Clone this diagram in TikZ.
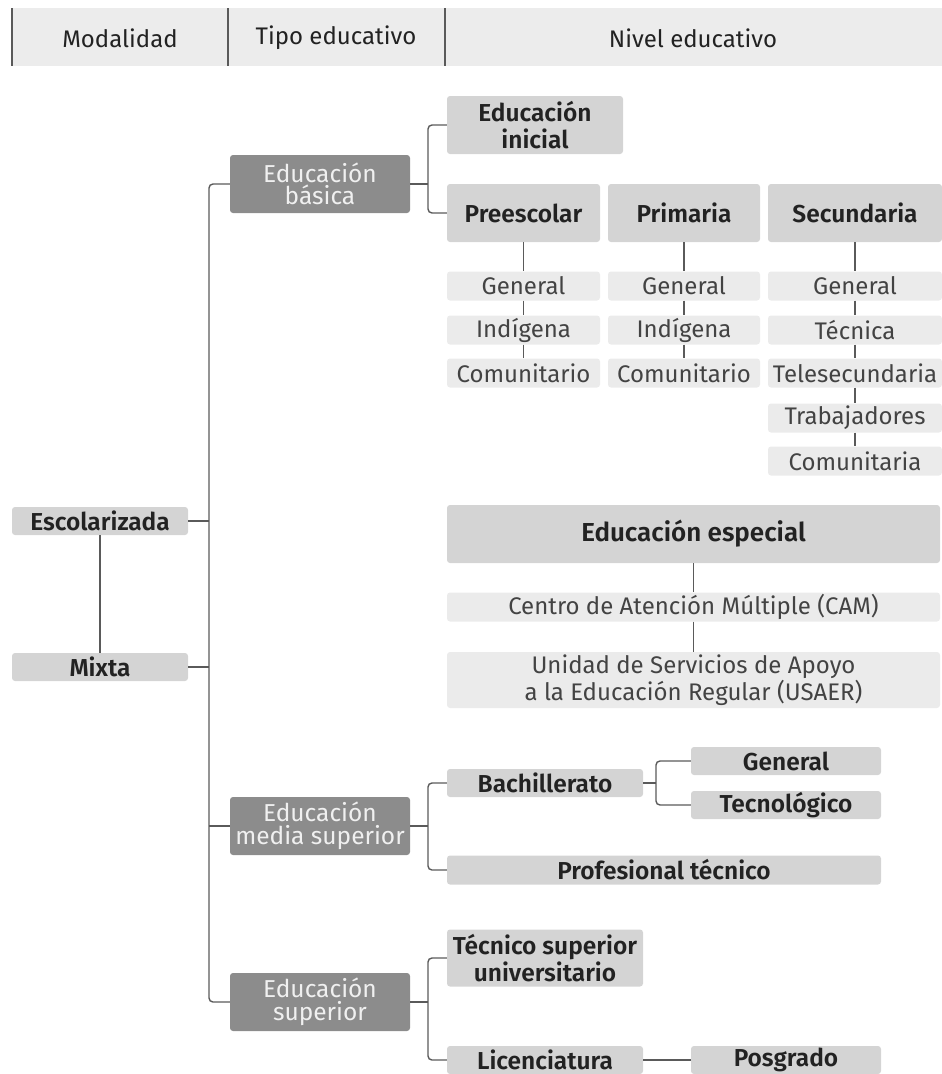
\documentclass[tikz,border=0pt]{standalone}
\usepackage{fontspec}
\setmainfont{Fira Sans}[BoldFont={Fira Sans SemiBold}]
\usepackage{tikz}
\usetikzlibrary{positioning}
\definecolor{headgris}{HTML}{ECECEC}
\definecolor{tipogris}{HTML}{8C8C8C}
\definecolor{nivelgris}{HTML}{D4D4D4}
\definecolor{subgris}{HTML}{EBEBEB}
\definecolor{lineagris}{HTML}{5A5A5A}
\definecolor{textogris}{HTML}{222222}
\tikzstyle{caja} = [rounded corners=3pt, inner sep=0pt, align=center,
    text=textogris, font=\fontsize{24}{27}\selectfont]
\tikzstyle{tipo} = [caja, fill=tipogris, text=white!94!black,
    font=\fontsize{24.5}{22.5}\selectfont, minimum width=180pt, minimum height=58pt]
\tikzstyle{nivel} = [caja, fill=nivelgris, font=\fontsize{24.5}{27}\selectfont\bfseries]
\tikzstyle{sub} = [caja, fill=subgris, text=textogris!85!white, minimum height=29pt]
\tikzstyle{linea} = [draw=lineagris, line width=1.4pt, rounded corners=4pt]

\begin{document}
\begin{tikzpicture}[x=1pt, y=-1pt]
  \useasboundingbox (0,0) rectangle (942,1074);
  % encabezado
  \fill[headgris] (12,8) rectangle (942,66);
  \foreach \x in {12,228,445}
    \draw[lineagris, line width=2pt] (\x,8) -- (\x,66);
  \node [caja] (hmod) at (120,38) {Modalidad};
  \node [caja] (htipo) at (336,38) {Tipo educativo};
  \node [caja] (hniv) at (693,38) {Nivel educativo};

  % modalidad
  \node [nivel, minimum width=176pt, minimum height=28pt] (esc) at (100,521) {Escolarizada};
  \node [nivel, minimum width=176pt, minimum height=28pt] (mix) at (100,667) {Mixta};

  % tipo educativo
  \node [tipo] (basica) at (320,184) {Educación\\básica};
  \node [tipo] (media) at (320,826) {Educación\\media superior};
  \node [tipo] (superior) at (320,1002) {Educación\\superior};

  % educacion basica
  \node [nivel, minimum width=176pt, minimum height=58pt] (inicial) at (535,125) {Educación\\inicial};
  \node [nivel, minimum width=153pt, minimum height=58pt] (pre) at (523.5,213) {Preescolar};
  \node [nivel, minimum width=152pt, minimum height=58pt] (pri) at (684,213) {Primaria};
  \node [nivel, minimum width=174pt, minimum height=58pt] (sec) at (855,213) {Secundaria};
  \foreach \col/\x/\w in {pre/523.5/153, pri/684/152}
    \foreach \t/\y [count=\i] in {General/286, Indígena/330, Comunitario/373}
      \node [sub, minimum width=\w pt] (\col\i) at (\x,\y) {\t};
  \foreach \t/\y [count=\i] in {General/286, Técnica/330, Telesecundaria/373,
      Trabajadores/418, Comunitaria/461}
    \node [sub, minimum width=174pt] (sec\i) at (855,\y) {\t};

  % educacion especial
  \node [nivel, minimum width=493pt, minimum height=58pt, font=\fontsize{26}{27}\selectfont\bfseries]
    (especial) at (693.5,534) {Educación especial};
  \node [sub, minimum width=493pt] (cam) at (693.5,607) {Centro de Atención Múltiple (CAM)};
  \node [sub, minimum width=493pt, minimum height=56pt, font=\fontsize{24}{25}\selectfont]
    (usaer) at (693.5,680) {Unidad de Servicios de Apoyo\\a la Educación Regular (USAER)};

  % media superior
  \node [nivel, minimum width=196pt, minimum height=28pt] (bach) at (545,783) {Bachillerato};
  \node [nivel, minimum width=190pt, minimum height=28pt] (bgen) at (786,761) {General};
  \node [nivel, minimum width=190pt, minimum height=28pt] (btec) at (786,805) {Tecnológico};
  \node [nivel, minimum width=434pt, minimum height=29pt] (prof) at (664,870) {Profesional técnico};

  % superior
  \node [nivel, minimum width=196pt, minimum height=57pt] (tsu) at (545,958) {Técnico superior\\universitario};
  \node [nivel, minimum width=196pt, minimum height=28pt] (lic) at (545,1060) {Licenciatura};
  \node [nivel, minimum width=190pt, minimum height=28pt] (pos) at (786,1060) {Posgrado};

  % conectores
  \coordinate (tronco) at (209,0);
  \coordinate (brA) at (428,0);
  \coordinate (brB) at (656,0);
  \draw [linea] (basica.west) -| (tronco |- superior.west) -- (superior.west);
  \foreach \n in {esc, mix}
    \draw [linea] (\n.east) -- (tronco |- \n.east);
  \draw [linea] (media.west) -- (tronco |- media.west);
  \draw [linea] (esc) -- (mix);
  \draw [linea] (inicial.west) -| (brA |- pre.west) -- (pre.west);
  \draw [linea] (basica.east) -- (brA |- basica.east);
  \draw [linea] (pre) -- (pre1) -- (pre2) -- (pre3);
  \draw [linea] (pri) -- (pri1) -- (pri2) -- (pri3);
  \draw [linea] (sec) -- (sec1) -- (sec2) -- (sec3) -- (sec4) -- (sec5);
  \draw [linea] (especial) -- (cam) -- (usaer);
  \draw [linea] (bach.west) -| (brA |- prof.west) -- (prof.west);
  \draw [linea] (media.east) -- (brA |- media.east);
  \draw [linea] (bgen.west) -| (brB |- btec.west) -- (btec.west);
  \draw [linea] (bach.east) -- (brB |- bach.east);
  \draw [linea] (tsu.west) -| (brA |- lic.west) -- (lic.west);
  \draw [linea] (superior.east) -- (brA |- superior.east);
  \draw [linea] (lic) -- (pos);
\end{tikzpicture}
\end{document}
